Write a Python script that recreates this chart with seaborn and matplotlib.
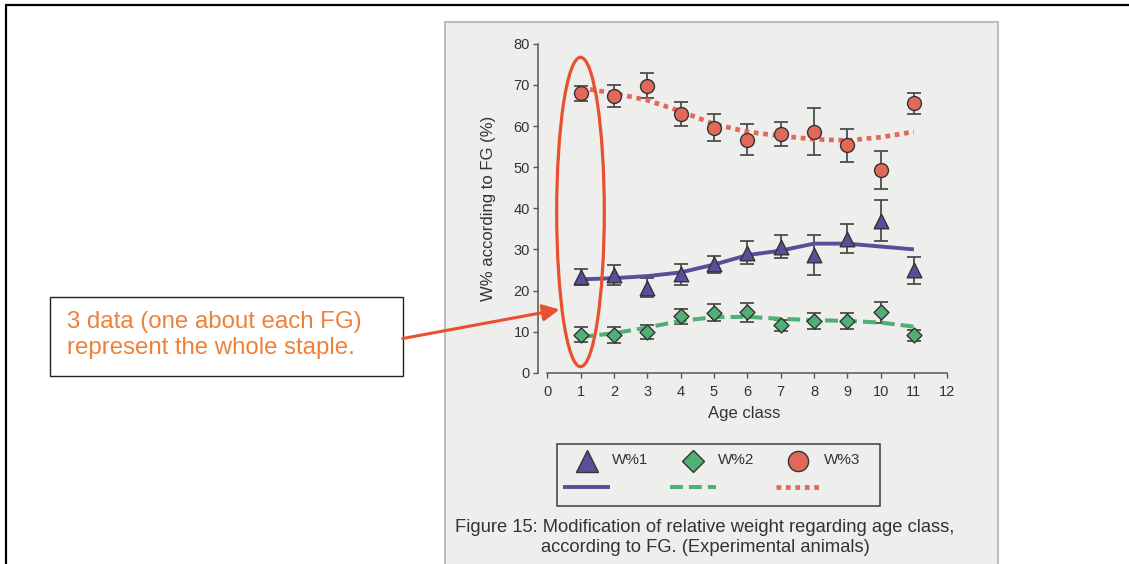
import matplotlib
matplotlib.use("Agg")
import matplotlib.pyplot as plt
from matplotlib.patches import Rectangle, Ellipse, FancyArrowPatch
from matplotlib.lines import Line2D
import pandas as pd
import seaborn as sns

# ---- data -------------------------------------------------------------
age = [1, 2, 3, 4, 5, 6, 7, 8, 9, 10, 11]

w1_mean = [23.3, 23.8, 20.7, 23.9, 26.4, 29.2, 30.6, 28.7, 32.6, 37.0, 24.9]
w1_err = [2.0, 2.5, 2.3, 2.5, 2.1, 2.8, 2.8, 4.9, 3.5, 5.0, 3.3]
w2_mean = [9.2, 9.2, 9.8, 13.7, 14.6, 14.7, 11.5, 12.6, 12.6, 14.7, 9.1]
w2_err = [1.8, 2.0, 1.7, 1.9, 2.1, 2.3, 1.4, 1.9, 1.9, 2.6, 1.3]
w3_mean = [68.0, 67.4, 69.8, 63.0, 59.6, 56.7, 58.0, 58.6, 55.3, 49.3, 65.5]
w3_err = [1.8, 2.7, 3.0, 2.9, 3.3, 3.8, 2.9, 5.7, 4.0, 4.7, 2.5]

w1_trend = [22.7, 23.0, 23.5, 24.4, 26.3, 28.6, 29.7, 31.4, 31.4, 30.7, 30.0]
w2_trend = [8.7, 9.6, 11.0, 12.6, 13.5, 13.6, 13.1, 12.8, 12.6, 12.2, 11.2]
w3_trend = [69.3, 68.0, 66.3, 63.6, 60.5, 58.6, 57.6, 56.8, 56.5, 57.3, 58.6]

series_names = ["W%1", "W%2", "W%3"]
x_ticks = [0, 1, 2, 3, 4, 5, 6, 7, 8, 9, 10, 11, 12]
y_ticks = [0, 10, 20, 30, 40, 50, 60, 70, 80]

x_label = "Age class"
y_label = "W% according to FG (%)"
caption_lines = ["Figure 15: Modification of relative weight regarding age class,",
                 "according to FG. (Experimental animals)"]
note_lines = ["3 data (one about each FG)", "represent the whole staple."]

# ---- style ------------------------------------------------------------
sns.set_style("ticks")
plt.rcParams["font.family"] = ["Liberation Sans", "DejaVu Sans"]

W, H = 1129, 564
PURPLE = "#5a4d9c"
GREEN = "#4fb074"
RED = "#e2695a"
EDGE = "#333333"
ERR = "#4d4d4d"
ACCENT = "#e8502f"
NOTE = "#ef8038"

styles = [
    dict(mean=w1_mean, err=w1_err, trend=w1_trend, color=PURPLE, marker="^", ms=10.5,
         ls="-", lw=2.8),
    dict(mean=w2_mean, err=w2_err, trend=w2_trend, color=GREEN, marker="D", ms=7.6,
         ls=(0, (3.2, 1.5)), lw=2.9),
    dict(mean=w3_mean, err=w3_err, trend=w3_trend, color=RED, marker="o", ms=10.0,
         ls=(0, (1.0, 1.0)), lw=3.4),
]

fig = plt.figure(figsize=(W / 100, H / 100), dpi=100)

# background layer in pixel coordinates: page frame, panel, note box, legend, caption
bg = fig.add_axes([0, 0, 1, 1], zorder=0)
bg.set_xlim(0, W)
bg.set_ylim(H, 0)
bg.axis("off")

bg.add_patch(Rectangle((444.5, 22), 553, 560, facecolor="#eeeeec",
                       edgecolor="#bdbdbd", lw=1.5))
bg.plot([5, W], [5.3, 5.3], color="black", lw=1.6, solid_capstyle="butt")
bg.plot([6, 6], [4.5, H], color="black", lw=1.6, solid_capstyle="butt")

bg.add_patch(Rectangle((50, 296.7), 352.7, 79.3, facecolor="white",
                       edgecolor="#222222", lw=1.0))
bg.text(67, 327.7, note_lines[0], color=NOTE, fontsize=17.3, va="baseline", ha="left")
bg.text(67, 354.0, note_lines[1], color=NOTE, fontsize=17.3, va="baseline", ha="left")

# legend box
bg.add_patch(Rectangle((557.3, 444), 322.7, 61.7, facecolor="none",
                       edgecolor="#3d3d3d", lw=1.1))
leg_marker_x = [587, 693.3, 798.3]
leg_text_x = [611.7, 718.3, 824]
leg_line_x = [(563.3, 610), (670, 716), (775.7, 822.7)]
leg_ms = [16, 11.5, 14.5]
for st, name, mx, tx, (l0, l1), lms in zip(styles, series_names, leg_marker_x,
                                           leg_text_x, leg_line_x, leg_ms):
    bg.add_line(Line2D([mx], [460.5], marker=st["marker"], ms=lms,
                       markerfacecolor=st["color"], markeredgecolor=EDGE,
                       markeredgewidth=1.0, linestyle="none"))
    bg.text(tx, 464.3, name, fontsize=11, color="#333333", va="baseline", ha="left")
    bg.add_line(Line2D([l0, l1], [487, 487], color=st["color"], lw=st["lw"],
                       linestyle=st["ls"], solid_capstyle="butt", dash_capstyle="butt"))

bg.text(705, 532.5, caption_lines[0], fontsize=13.2, color="#333333",
        ha="center", va="baseline")
bg.text(705, 552.5, caption_lines[1], fontsize=13.2, color="#333333",
        ha="center", va="baseline")

# ---- main plot --------------------------------------------------------
x0, x1 = -0.4, 12.3
y0, y1 = -2.0, 82.0
px_left = 547.3 + 33.33 * x0
px_right = 547.3 + 33.33 * x1
py_bottom = 372.7 - 4.11 * y0
py_top = 372.7 - 4.11 * y1
ax = fig.add_axes([px_left / W, 1 - py_bottom / H,
                   (px_right - px_left) / W, (py_bottom - py_top) / H], zorder=1)
ax.patch.set_alpha(0)

for st in styles:
    ax.errorbar(age, st["mean"], yerr=st["err"], fmt="none", ecolor=ERR,
                elinewidth=1.3, capsize=5.0, capthick=1.3, zorder=2)

for st in styles:
    sns.lineplot(x=age, y=st["trend"], ax=ax, color=st["color"], lw=st["lw"],
                 linestyle=st["ls"], zorder=3)

for st in styles:
    sns.scatterplot(x=age, y=st["mean"], ax=ax, marker=st["marker"],
                    s=st["ms"] ** 2, color=st["color"], edgecolor=EDGE,
                    linewidth=1.0, zorder=4)

for ln in ax.get_lines():
    ln.set_solid_capstyle("butt")
    ln.set_dash_capstyle("butt")

ax.set_xlim(x0, x1)
ax.set_ylim(y0, y1)
ax.set_xticks(x_ticks)
ax.set_yticks(y_ticks)
for side in ("top", "right"):
    ax.spines[side].set_visible(False)
ax.spines["left"].set_position(("data", -0.288))
ax.spines["bottom"].set_position(("data", -0.15))
ax.spines["left"].set_bounds(0, 80)
ax.spines["bottom"].set_bounds(0, 12)
for side in ("left", "bottom"):
    ax.spines[side].set_color("#555555")
    ax.spines[side].set_linewidth(1.1)
ax.tick_params(axis="both", direction="out", length=3.6, width=1.0,
               color="#555555", labelcolor="#333333", labelsize=10.5)
ax.tick_params(axis="y", pad=2)
ax.tick_params(axis="x", pad=4.5)

ax.set_xlabel(x_label, fontsize=12, color="#333333")
ax.set_ylabel(y_label, fontsize=12, color="#333333")
ax_h = py_bottom - py_top
ax_w = px_right - px_left
ax.xaxis.set_label_coords((744 - px_left) / ax_w, (py_bottom - 406) / ax_h)
ax.yaxis.set_label_coords((496 - px_left) / ax_w, (py_bottom - 208) / ax_h)

# ---- highlight overlay ------------------------------------------------
ov = fig.add_axes([0, 0, 1, 1], zorder=3)
ov.set_xlim(0, W)
ov.set_ylim(H, 0)
ov.patch.set_alpha(0)
ov.axis("off")
ov.add_patch(Ellipse((580.5, 212), 47.6, 309.4, facecolor="none",
                     edgecolor=ACCENT, lw=2.3))
ov.add_patch(FancyArrowPatch((402.7, 338.5), (559.5, 309.5),
                             arrowstyle="-|>,head_length=0.5,head_width=0.25",
                             mutation_scale=20, lw=2.2, color=ACCENT,
                             shrinkA=0, shrinkB=0))

fig.savefig("out.png", dpi=100)
